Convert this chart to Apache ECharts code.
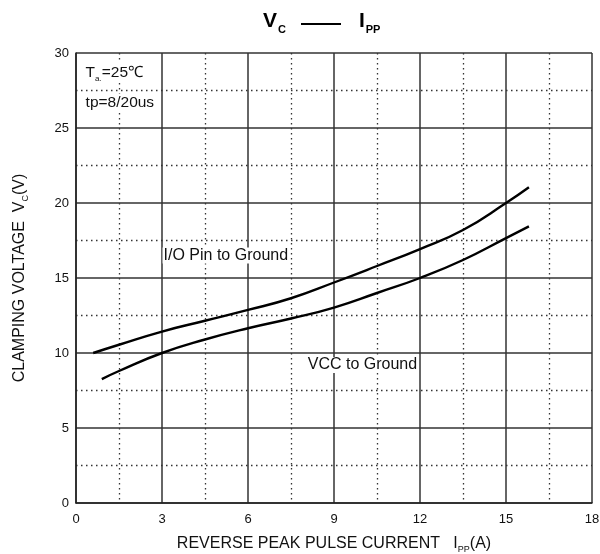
<!DOCTYPE html>
<html><head><meta charset="utf-8">
<script src="https://cdn.jsdelivr.net/npm/echarts@6/dist/echarts.min.js"></script>
<style>html,body{margin:0;padding:0;background:#fff}#c{width:600px;height:554px}</style>
</head><body><div id="c"></div>
<script>
var xTicks = [0, 3, 6, 9, 12, 15, 18];
var yTicks = [0, 5, 10, 15, 20, 25, 30];
var ioPin = [[0.6,10.0],[1.5,10.55],[3,11.43],[4.5,12.15],[6,12.87],[7.5,13.65],[9,14.7],[10.5,15.8],[12,16.93],[13.5,18.2],[15,20.0],[15.8,21.05]];
var vccGnd = [[0.9,8.26],[1.5,8.8],[3,10.0],[4.5,10.9],[6,11.65],[7.5,12.3],[9,13.03],[10.5,14.0],[12,15.0],[13.5,16.2],[15,17.66],[15.8,18.44]];
var notes = [
  {text:'I/O Pin to Ground', at:[3.02,16.5]},
  {text:'VCC to Ground', at:[8.05,9.2]}
];

var chart = echarts.init(document.getElementById('c'));
var font = 'Liberation Sans, Arial, sans-serif';
function axisBase(extra){
  var o = {
    type:'value',
    axisLine:{show:true,lineStyle:{color:'#222',width:1.5}},
    axisTick:{show:false},
    splitLine:{show:true,lineStyle:{color:'#333',width:1.5}},
    minorTick:{show:false,splitNumber:2},
    minorSplitLine:{show:true,lineStyle:{color:'#333',width:1.3,type:[1.5,3.5]}}
  };
  return Object.assign(o, extra);
}
var nameStyle = {fontSize:16,color:'#111',fontFamily:font,
  rich:{s:{fontSize:9,fontFamily:font,color:'#111',padding:[12,0,0,0]}}};
chart.setOption({
  animation:false,
  title:{
    text:'{b|V}{s|C}{g1|}{d|——}{g2|}{b|I}{s|PP}',
    left:263, top:8, padding:0,
    textStyle:{rich:{
      b:{fontSize:21,fontWeight:'bold',fontFamily:font,color:'#000'},
      d:{fontSize:20,fontWeight:'bold',fontFamily:font,color:'#000',padding:[4,0,0,0]},
      s:{fontSize:11,fontWeight:'bold',fontFamily:font,color:'#000',padding:[16,0,0,1]},
      g1:{width:15}, g2:{width:18}
    }}
  },
  grid:{left:76,right:8,top:53,bottom:51,outerBoundsMode:'none',containLabel:false},
  xAxis:axisBase({min:0,max:18,interval:3,
    name:'REVERSE PEAK PULSE CURRENT   I{s|PP}(A)',nameLocation:'middle',nameGap:30,
    nameTextStyle:nameStyle,
    axisLabel:{color:'#111',fontSize:13,fontFamily:font,margin:10}
  }),
  yAxis:axisBase({min:0,max:30,interval:5,
    name:'CLAMPING VOLTAGE  V{s|C}(V)',nameLocation:'middle',nameGap:46,
    nameTextStyle:nameStyle,
    axisLabel:{color:'#111',fontSize:13,fontFamily:font,margin:7}
  }),
  series:[
    {type:'line',data:ioPin,smooth:true,symbol:'none',lineStyle:{color:'#000',width:2.4}},
    {type:'line',data:vccGnd,smooth:true,symbol:'none',lineStyle:{color:'#000',width:2.4}}
  ]
});

function place(){
  var els = [];
  notes.forEach(function(n){
    var p = chart.convertToPixel({gridIndex:0}, n.at);
    els.push({type:'text',x:p[0],y:p[1],z:10,style:{text:n.text,font:'16px '+font,fill:'#111',backgroundColor:'#fff',verticalAlign:'middle',padding:[0,1]}});
  });
  var t1 = chart.convertToPixel({gridIndex:0},[0.3,28.7]);
  var t2 = chart.convertToPixel({gridIndex:0},[0.3,26.7]);
  els.push({type:'text',x:t1[0],y:t1[1],z:10,style:{
    text:'{n|T}{s|a.}{n|=25℃}',
    backgroundColor:'#fff',padding:[0,1],verticalAlign:'middle',
    rich:{n:{fontSize:15.5,fontFamily:font,fill:'#111'},s:{fontSize:8,fontFamily:font,fill:'#111',padding:[12,0,0,0]}}
  }});
  els.push({type:'text',x:t2[0],y:t2[1],z:10,style:{
    text:'tp=8/20us',font:'15.5px '+font,fill:'#111',
    backgroundColor:'#fff',padding:[1,1],verticalAlign:'middle'
  }});
  chart.setOption({graphic:els});
}
place();
</script></body></html>
